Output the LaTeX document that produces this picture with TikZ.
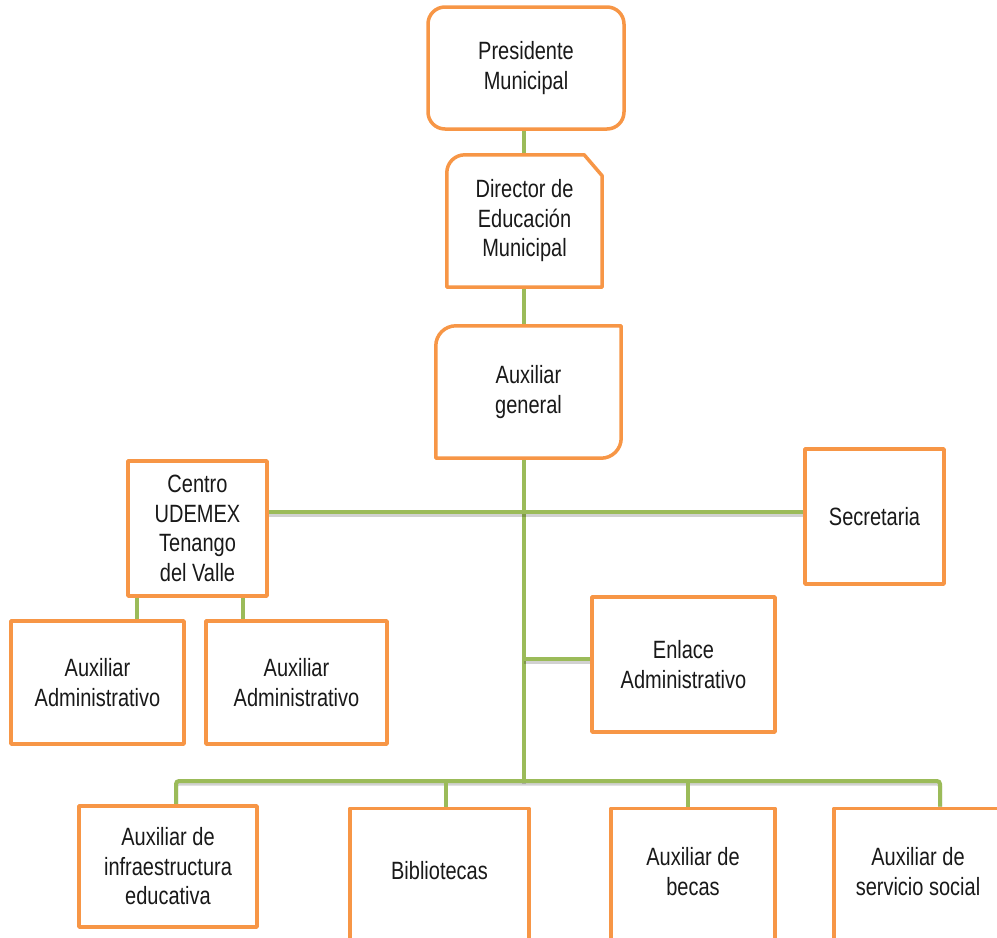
\documentclass[tikz,border=0pt]{standalone}
\usepackage{fontspec}
\setmainfont{Liberation Sans}[FakeStretch=0.80]
\usetikzlibrary{calc,backgrounds}
\definecolor{borange}{HTML}{F79646}
\definecolor{lgreen}{HTML}{9BBB59}
\tikzset{
  obox/.style={draw=borange, line width=3.5pt, line join=round, fill=white},
  nobox/.style={draw=none, inner sep=0pt},
  txt/.style={font=\fontsize{25}{29.5}\selectfont, align=center, text=black!90},
  conn/.style={draw=lgreen, line width=4pt,
    preaction={draw=black, line width=4pt, opacity=0.18, transform canvas={yshift=-2.5pt}}},
}
\begin{document}
\begin{tikzpicture}[x=1pt,y=-1pt]
\useasboundingbox (0,0) rectangle (997,938);
\clip (0,0) rectangle (997,938);
% top chain
\node[obox, txt, rounded corners=17pt, minimum width=196pt, minimum height=122pt, inner sep=0pt] (pres) at (526,68) {Presidente\\Municipal};
\node[nobox, txt, minimum width=155pt, minimum height=132pt] (dir) at (524.5,221) {Director de\\Educación\\Municipal};
\node[nobox, txt, minimum width=185pt, minimum height=132pt] (ag) at (528.5,392) {Auxiliar\\general};
% left group
\node[obox, txt, minimum width=139pt, minimum height=135pt, inner sep=0pt] (cen) at (197.5,528.5) {Centro\\UDEMEX\\Tenango\\del Valle};
\node[obox, txt, minimum width=173pt, minimum height=123pt, inner sep=0pt] (aa1) at (97.5,682.5) {Auxiliar\\Administrativo};
\node[obox, txt, minimum width=181pt, minimum height=123pt, inner sep=0pt] (aa2) at (296.5,682.5) {Auxiliar\\Administrativo};
% right group
\node[obox, txt, minimum width=139pt, minimum height=135pt, inner sep=0pt] (sec) at (874.5,516.5) {Secretaria};
\node[obox, txt, minimum width=183pt, minimum height=135pt, inner sep=0pt] (enl) at (683.5,664.5) {Enlace\\Administrativo};
% bottom row
\node[obox, txt, minimum width=178pt, minimum height=121pt, inner sep=0pt] (inf) at (168,866.5) {Auxiliar de\\infraestructura\\educativa};
\node[obox, minimum width=179pt, minimum height=150pt, inner sep=0pt, anchor=north] (bib) at (439.5,806.5) {};
\node[obox, minimum width=164pt, minimum height=150pt, inner sep=0pt, anchor=north] (bec) at (693,806.5) {};
\node[obox, minimum width=168pt, minimum height=150pt, inner sep=0pt, anchor=north] (ser) at (918,806.5) {};
\node[txt] (bibt) at ($(bib.north)+(0,64)$) {Bibliotecas};
\node[txt] (bect) at ($(bec.north)+(0,65)$) {Auxiliar de\\becas};
\node[txt] (sert) at ($(ser.north)+(0,65)$) {Auxiliar de\\servicio social};
% special shapes
\draw[obox] (dir.south west) -- ($(dir.north west)+(0,18)$)
  .. controls ($(dir.north west)+(0,8)$) and ($(dir.north west)+(8,0)$) .. ($(dir.north west)+(18,0)$)
  -- ($(dir.north east)+(-18,0)$) -- ($(dir.north east)+(0,21)$) -- (dir.south east) -- cycle;
\node[txt] at (dir) {Director de\\Educación\\Municipal};
\draw[obox] ($(ag.north west)+(20,0)$) -- (ag.north east) -- ($(ag.south east)+(0,-20)$)
  .. controls ($(ag.south east)+(0,-9)$) and ($(ag.south east)+(-9,0)$) .. ($(ag.south east)+(-20,0)$)
  -- (ag.south west) -- ($(ag.north west)+(0,20)$)
  .. controls ($(ag.north west)+(0,9)$) and ($(ag.north west)+(9,0)$) .. cycle;
\node[txt] at (ag) {Auxiliar\\general};
% connectors
\coordinate (tx) at (524,0);
\coordinate (hy) at (0,512);
\coordinate (ey) at (0,659);
\coordinate (by) at (0,781);
\coordinate (d1) at (176,0);
\coordinate (d2) at (446,0);
\coordinate (d3) at (688,0);
\coordinate (d4) at (940,0);
\coordinate (c1) at (137,0);
\coordinate (c2) at (243,0);
\begin{scope}[on background layer]
\draw[conn] (pres.south -| tx) -- (dir.north -| tx);
\draw[conn] (dir.south -| tx) -- (ag.north -| tx);
\draw[conn] (ag.south -| tx) -- (tx |- by);
\draw[conn] (cen.east |- hy) -- (sec.west |- hy);
\draw[conn] (tx |- ey) -- (enl.west |- ey);
\draw[conn, rounded corners=3pt] (inf.north -| d1) -- (d1 |- by) -- (d4 |- by) -- (ser.north -| d4);
\draw[conn] (d2 |- by) -- (bib.north -| d2);
\draw[conn] (d3 |- by) -- (bec.north -| d3);
\draw[conn] (cen.south -| c1) -- (aa1.north -| c1);
\draw[conn] (cen.south -| c2) -- (aa2.north -| c2);
\end{scope}
\end{tikzpicture}
\end{document}
